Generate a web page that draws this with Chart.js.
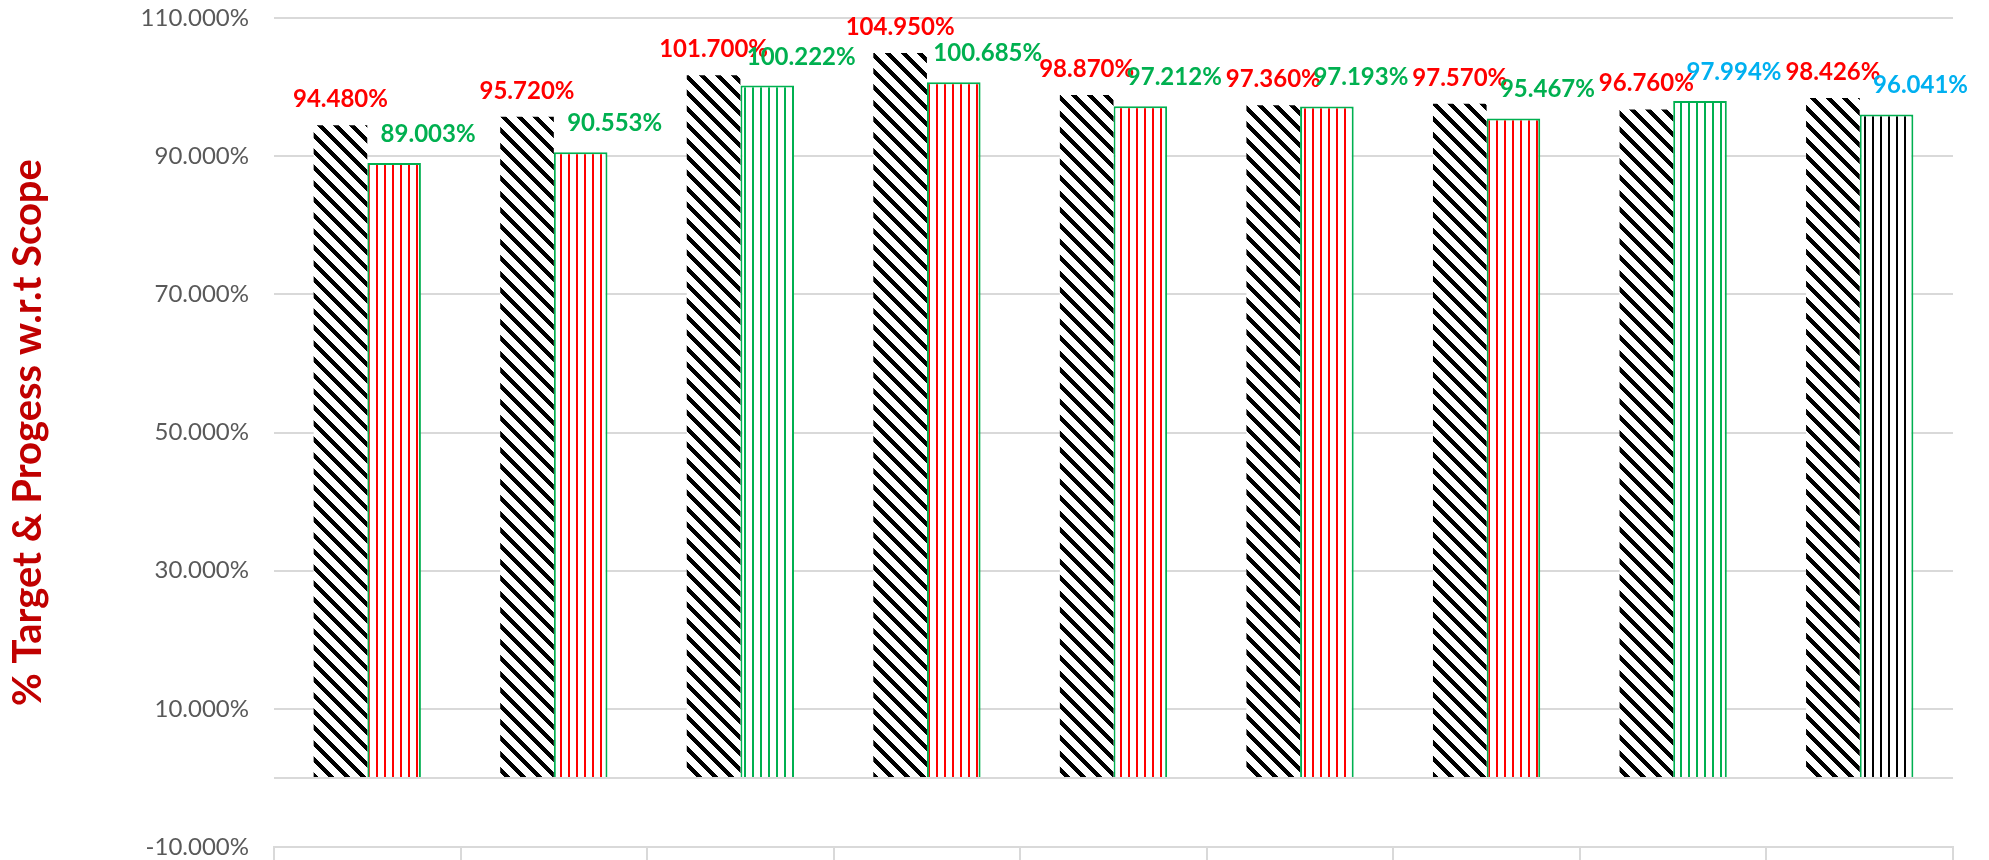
<!DOCTYPE html>
<html>
<head>
<meta charset="utf-8">
<script src="https://cdn.jsdelivr.net/npm/chart.js@4.4.1/dist/chart.umd.min.js"></script>
<style>
  html, body { margin: 0; padding: 0; background: #fff; }
  #wrap { width: 1989px; height: 860px; position: relative; }
</style>
</head>
<body>
<div id="wrap"><canvas id="chart"></canvas></div>
<script>
const CATEGORIES = ['1', '2', '3', '4', '5', '6', '7', '8', '9'];
const TARGET = [94.480, 95.720, 101.700, 104.950, 98.870, 97.360, 97.570, 96.760, 98.426];
const PROGRESS = [89.003, 90.553, 100.222, 100.685, 97.212, 97.193, 95.467, 97.994, 96.041];
const Y_MIN = -10, Y_MAX = 110, Y_STEP = 20;

// stripe colour of each progress bar, and colour of its value label
const STRIPE = ['#FF0000', '#FF0000', '#00B050', '#FF0000', '#FF0000', '#FF0000', '#FF0000', '#00B050', '#000000'];
const PROGRESS_LABEL = ['#00B050', '#00B050', '#00B050', '#00B050', '#00B050', '#00B050', '#00B050', '#00B0F0', '#00B0F0'];

function diagPattern() {
  const c = document.createElement('canvas');
  c.width = 16; c.height = 16;
  const g = c.getContext('2d');
  g.fillStyle = '#fff';
  g.fillRect(0, 0, 16, 16);
  g.fillStyle = '#000';
  for (let y = 0; y < 16; y++) {
    for (let x = 0; x < 16; x++) {
      if (((x - y) % 16 + 16) % 16 < 6) g.fillRect(x, y, 1, 1);
    }
  }
  return g.createPattern(c, 'repeat');
}

function vertPattern(color) {
  const c = document.createElement('canvas');
  c.width = 8; c.height = 8;
  const g = c.getContext('2d');
  g.fillStyle = '#fff';
  g.fillRect(0, 0, 8, 8);
  g.fillStyle = color;
  g.fillRect(0, 0, 2, 8);
  return g.createPattern(c, 'repeat');
}

const pats = {};
STRIPE.forEach(col => { if (!pats[col]) pats[col] = vertPattern(col); });

const fmt = v => v.toFixed(3) + '%';

const valueLabels = {
  id: 'valueLabels',
  afterDatasetsDraw(chart) {
    const ctx = chart.ctx;
    ctx.save();
    ctx.font = 'bold 24px Lato';
    ctx.textAlign = 'center';
    ctx.textBaseline = 'alphabetic';
    chart.getDatasetMeta(0).data.forEach((bar, i) => {
      ctx.fillStyle = '#FF0000';
      ctx.fillText(fmt(TARGET[i]), bar.x, bar.y - 18);
    });
    chart.getDatasetMeta(1).data.forEach((bar, i) => {
      ctx.fillStyle = PROGRESS_LABEL[i];
      ctx.fillText(fmt(PROGRESS[i]), bar.x + 34, bar.y - 21);
    });
    ctx.restore();
  }
};

new Chart(document.getElementById('chart'), {
  type: 'bar',
  data: {
    labels: CATEGORIES,
    datasets: [
      {
        label: 'Target',
        data: TARGET,
        backgroundColor: diagPattern(),
        borderWidth: 0,
        categoryPercentage: 0.575,
        barPercentage: 1
      },
      {
        label: 'Progress',
        data: PROGRESS,
        backgroundColor: STRIPE.map(c => pats[c]),
        borderColor: '#00B050',
        borderWidth: 2,
        categoryPercentage: 0.575,
        barPercentage: 1
      }
    ]
  },
  options: {
    responsive: true,
    maintainAspectRatio: false,
    animation: false,
    layout: { padding: { top: 18, right: 36, bottom: 0, left: 0 } },
    plugins: {
      legend: { display: false },
      tooltip: { enabled: false }
    },
    scales: {
      x: {
        ticks: { display: false },
        grid: { display: true, drawOnChartArea: false, drawTicks: true, tickLength: 13, color: '#D9D9D9', lineWidth: 2, offset: true },
        border: { display: true, color: '#D9D9D9', width: 2 },
        afterFit: s => { s.height = 13; s.paddingLeft = 0; s.paddingRight = 0; }
      },
      y: {
        min: Y_MIN,
        max: Y_MAX,
        afterBuildTicks: s => {
          s.ticks.push({ value: 0 });
          s.ticks.sort((a, b) => a.value - b.value);
        },
        afterFit: s => { s.width = 274; s.paddingTop = 0; s.paddingBottom = 0; },
        ticks: {
          stepSize: Y_STEP,
          padding: 25,
          color: '#595959',
          font: { family: 'Lato', size: 24, lineHeight: 1 },
          callback: v => v === 0 ? '' : fmt(v)
        },
        grid: { color: '#D9D9D9', lineWidth: 2, drawTicks: false },
        border: { display: false },
        title: {
          display: true,
          text: '% Target & Progess w.r.t Scope',
          color: '#C00000',
          font: { family: 'Lato', size: 40, weight: 'bold', lineHeight: 1.2 },
          padding: { top: 4, bottom: 0 }
        }
      }
    }
  },
  plugins: [valueLabels]
});
</script>
</body>
</html>
